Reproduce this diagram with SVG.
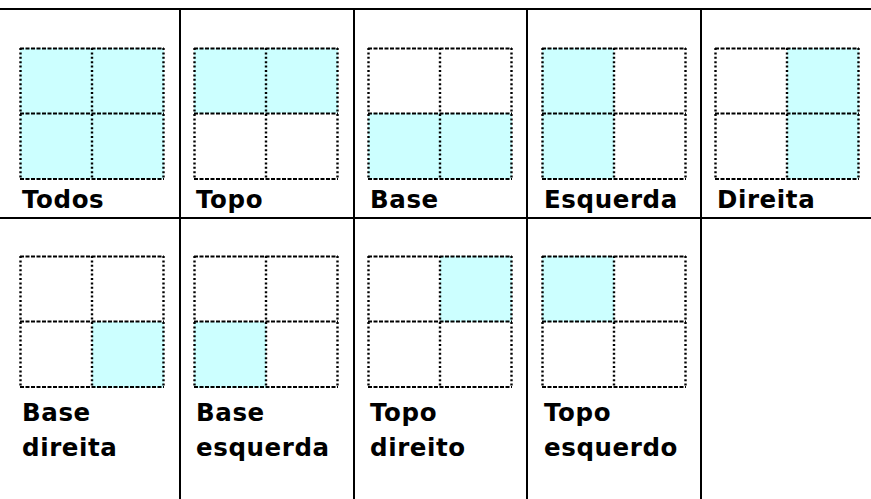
<svg xmlns="http://www.w3.org/2000/svg" width="871" height="499" viewBox="0 0 871 499">
<defs>
<style>
.bg{fill:#ffffff}
.rule{stroke:#000;stroke-width:2;fill:none}
.on{fill:#ccffff}
.h{stroke:#000;stroke-width:2;stroke-dasharray:4 1.5;fill:none}
.v{stroke:#000;stroke-width:2.4;stroke-dasharray:2 2.4;fill:none}
.lbl{font-family:"DejaVu Sans",Verdana,sans-serif;font-weight:bold;font-size:24.5px;letter-spacing:0.6px;fill:#000}
</style>
<g id="grid">
<path class="h" d="M0 0.5H144M0 65.5H144M0 131H144"/>
<path class="v" d="M0.5 0V131M72 0V131M143.5 0V131"/>
</g>
</defs>
<rect class="bg" x="0" y="0" width="871" height="499"/>
<g id="table">
<path class="rule" d="M0 9H871M0 218H871M180 9V499M354 9V499M527 9V499M701 9V499"/>
</g>
<g id="todos">
<rect class="on" x="20" y="48" width="144" height="131"/>
<use href="#grid" x="20" y="48"/>
<text class="lbl" x="22" y="208">Todos</text>
</g>
<g id="topo">
<rect class="on" x="194" y="48" width="144" height="65"/>
<use href="#grid" x="194" y="48"/>
<text class="lbl" x="196" y="208">Topo</text>
</g>
<g id="base">
<rect class="on" x="368" y="113" width="144" height="66"/>
<use href="#grid" x="368" y="48"/>
<text class="lbl" x="370" y="208">Base</text>
</g>
<g id="esquerda">
<rect class="on" x="542" y="48" width="72" height="131"/>
<use href="#grid" x="542" y="48"/>
<text class="lbl" x="544" y="208">Esquerda</text>
</g>
<g id="direita">
<rect class="on" x="787" y="48" width="72" height="131"/>
<use href="#grid" x="715" y="48"/>
<text class="lbl" x="717" y="208">Direita</text>
</g>
<g id="base-direita">
<rect class="on" x="92" y="322" width="72" height="66"/>
<use href="#grid" x="20" y="256"/>
<text class="lbl" x="22" y="421">Base</text>
<text class="lbl" x="22" y="456">direita</text>
</g>
<g id="base-esquerda">
<rect class="on" x="194" y="322" width="72" height="66"/>
<use href="#grid" x="194" y="256"/>
<text class="lbl" x="196" y="421">Base</text>
<text class="lbl" x="196" y="456">esquerda</text>
</g>
<g id="topo-direito">
<rect class="on" x="440" y="256" width="72" height="66"/>
<use href="#grid" x="368" y="256"/>
<text class="lbl" x="370" y="421">Topo</text>
<text class="lbl" x="370" y="456">direito</text>
</g>
<g id="topo-esquerdo">
<rect class="on" x="542" y="256" width="72" height="66"/>
<use href="#grid" x="542" y="256"/>
<text class="lbl" x="544" y="421">Topo</text>
<text class="lbl" x="544" y="456">esquerdo</text>
</g>
</svg>
